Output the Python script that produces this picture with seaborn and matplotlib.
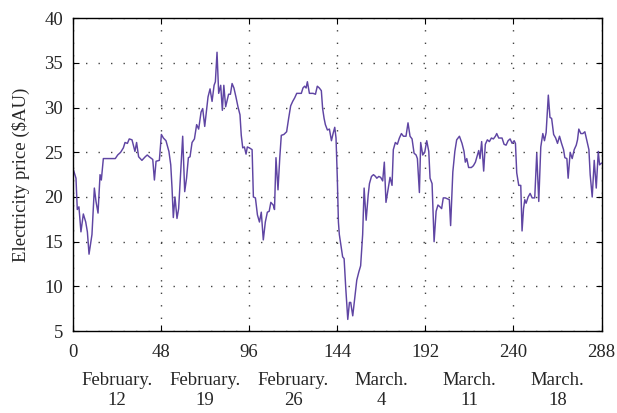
import matplotlib
matplotlib.use("Agg")
import matplotlib.pyplot as plt
import matplotlib.transforms as mtransforms
import seaborn as sns
import pandas as pd

# Half-hourly index (x) and electricity price in $AU (y)
hours = [0, 1.8, 2.5, 3.4, 4.5, 5.8, 7.1, 8.0, 8.9, 10.5, 11.8, 12.7, 13.8, 14.9, 15.6, 16.7,
         23.2, 24.5, 26.1, 27.6, 28.5, 29.8, 30.8, 32.3, 33.9, 34.8, 35.9, 37.7, 39.5, 40.6,
         41.7, 43.6, 44.5, 45.4, 47.2, 48.3, 49.4, 50.8, 52.4, 53.4, 54.1, 54.8, 55.7, 56.8,
         57.7, 58.8, 59.9, 61.0, 62.0, 63.0, 63.9, 65.0, 66.3, 67.5, 68.6, 69.9, 70.8, 71.9,
         73.0, 73.7, 74.8, 75.9, 77.0, 77.7, 78.6, 79.5, 80.6, 81.5, 82.3, 83.3, 84.9, 85.9,
         86.8, 87.8, 88.9, 90.0, 91.1, 91.8, 92.6, 93.5, 94.4, 95.1, 96.2, 97.7, 98.4, 99.5,
         100.6, 101.7, 102.7, 103.8, 104.9, 106.0, 107.0, 107.9, 109.2, 109.9, 110.7, 111.8,
         112.8, 113.6, 115.0, 116.5, 117.6, 118.7, 119.8, 120.9, 122.0, 124.5, 125.4, 126.3,
         127.1, 127.8, 128.9, 130.9, 132.2, 133.2, 134.3, 135.4, 136.1, 136.9, 137.6, 138.7,
         139.8, 140.9, 141.8, 142.7, 143.4, 144.1, 144.7, 145.2, 146.3, 147.0, 147.8, 148.7,
         149.8, 150.7, 151.4, 152.5, 153.6, 154.7, 155.8, 156.8, 157.9, 158.7, 159.8, 160.9,
         161.6, 162.7, 163.8, 164.9, 165.6, 166.7, 167.7, 168.8, 169.7, 170.6, 171.7, 172.8,
         173.9, 174.6, 175.7, 176.8, 177.9, 179.0, 180.1, 181.5, 182.6, 183.7, 184.8, 185.9,
         187.0, 187.7, 188.8, 189.5, 190.6, 191.7, 192.8, 193.9, 194.6, 195.7, 196.8, 197.9,
         198.9, 200.0, 200.9, 201.8, 202.9, 204.0, 205.1, 205.8, 207.0, 208.1, 209.1, 210.6,
         212.0, 213.1, 213.8, 214.6, 215.6, 217.1, 218.2, 219.3, 220.4, 221.1, 221.8, 222.7,
         223.8, 224.7, 225.8, 226.9, 228.0, 229.1, 230.2, 230.9, 232.0, 233.8, 234.9, 236.0,
         237.1, 238.2, 239.3, 240.4, 241.1, 241.8, 242.9, 244.0, 244.7, 245.5, 246.2, 246.9,
         248.0, 249.1, 250.2, 251.6, 252.7, 253.8, 254.9, 256.0, 256.9, 257.8, 259.0, 259.9,
         260.8, 261.9, 263.0, 264.0, 265.1, 266.2, 267.3, 268.0, 269.1, 269.8, 270.9, 272.0,
         273.1, 274.2, 274.9, 275.6, 276.7, 277.8, 278.9, 280.0, 281.1, 281.8, 282.9, 284.0,
         285.1, 286.2, 286.9, 288.0]
price = [23.3, 22.1, 18.6, 18.9, 16.1, 18.1, 17.2, 16.1, 13.6, 15.8, 21.0, 19.5, 18.2, 22.5, 21.9, 24.3,
         24.3, 24.7, 25.0, 25.5, 26.1, 26.0, 26.5, 26.4, 25.1, 26.1, 24.5, 24.1, 24.5, 24.7,
         24.5, 24.2, 21.9, 24.0, 24.1, 27.0, 26.6, 26.3, 25.1, 23.6, 21.0, 17.7, 20.0, 17.6,
         18.7, 22.8, 26.8, 20.6, 22.1, 24.4, 24.5, 26.1, 26.5, 28.1, 27.6, 29.5, 29.9, 27.9,
         29.9, 31.2, 32.1, 30.7, 32.5, 32.9, 36.2, 31.6, 32.5, 29.7, 32.5, 30.1, 31.5, 31.5,
         32.7, 32.2, 31.2, 30.1, 29.2, 26.9, 25.5, 25.6, 24.8, 25.6, 25.5, 25.3, 20.0, 19.9,
         18.0, 17.2, 18.3, 15.2, 17.2, 18.3, 18.4, 19.4, 19.1, 18.6, 24.4, 20.8,
         24.5, 26.9, 27.0, 27.3, 28.8, 30.2, 30.7, 31.1, 31.6, 31.6, 32.2, 32.4,
         32.2, 32.9, 31.6, 31.6, 31.5, 32.4, 32.2, 31.9, 29.9, 28.8, 28.1, 27.5,
         27.6, 26.3, 27.1, 27.8, 26.6, 22.1, 17.2, 15.8, 14.3, 13.3, 13.1, 9.8,
         6.3, 8.2, 8.2, 6.7, 8.7, 10.7, 11.6, 12.3, 15.8, 21.0, 17.4, 20.2,
         21.5, 22.3, 22.5, 22.3, 22.1, 22.3, 22.2, 21.8, 23.9, 19.4, 20.8, 22.2,
         21.3, 25.3, 26.1, 25.9, 26.6, 27.1, 26.8, 26.8, 28.3, 26.8, 26.5, 24.9,
         24.7, 24.3, 20.5, 26.1, 24.7, 25.0, 26.3, 25.1, 22.1, 21.5, 15.0, 18.4,
         19.1, 18.9, 18.7, 19.9, 19.9, 19.8, 19.7, 16.8, 22.8, 25.1, 26.4, 26.8,
         26.0, 25.1, 23.9, 24.3, 23.3, 23.3, 23.5, 23.9, 24.7, 25.2, 24.3, 26.2,
         22.9, 25.9, 26.4, 26.2, 26.6, 26.5, 26.8, 27.1, 26.6, 26.6, 25.9, 25.8,
         26.3, 26.5, 26.0, 26.3, 26.0, 22.7, 21.3, 21.3, 16.2, 18.7, 19.7, 19.3,
         20.0, 20.4, 19.9, 19.9, 24.9, 19.5, 25.6, 27.1, 26.3, 27.2, 31.4, 28.9,
         28.8, 27.0, 26.6, 26.0, 26.8, 26.0, 25.3, 24.4, 24.3, 22.1, 25.0, 24.3,
         25.3, 25.8, 26.4, 27.6, 27.1, 27.1, 27.3, 26.3, 25.3, 22.5, 20.0, 24.1,
         21.0, 25.1, 23.6, 23.8]

x_ticks = [0, 48, 96, 144, 192, 240, 288]
y_ticks = [5, 10, 15, 20, 25, 30, 35, 40]
date_labels = ["February.\n12", "February.\n19", "February.\n26", "March.\n4", "March.\n11", "March.\n18"]
date_positions = [24, 72, 120, 168, 216, 264]

df = pd.DataFrame({"hour": hours, "price": price})

sns.set_style("ticks")
plt.rcParams["font.family"] = ["Liberation Serif", "DejaVu Serif"]
plt.rcParams["xtick.direction"] = "in"
plt.rcParams["ytick.direction"] = "in"

fig = plt.figure(figsize=(6.17, 4.13), dpi=100)
ax = fig.add_axes([0.1178, 0.1985, 0.8572, 0.7572])

sns.lineplot(data=df, x="hour", y="price", ax=ax, color="#5f45a3", linewidth=1.05)

ax.set_xlim(0, 288)
ax.set_ylim(5, 40)
ax.set_xticks(x_ticks)
ax.set_yticks(y_ticks)
ax.tick_params(axis="both", which="both", labelsize=13.5, length=4, width=0.8,
               top=True, right=True, color="black")
ax.tick_params(axis="x", pad=9)
ax.tick_params(axis="y", pad=7)
ax.grid(True, linestyle=(0, (1, 8)), color="#444444", linewidth=1.0)
for s in ax.spines.values():
    s.set_visible(True)
    s.set_linewidth(1.0)
    s.set_color("black")
ax.set_xlabel("")
ax.set_ylabel("Electricity price ($AU)", fontsize=13.5, labelpad=10)

trans = mtransforms.blended_transform_factory(ax.transData, ax.transAxes)
for pos, lab in zip(date_positions, date_labels):
    ax.text(pos, -0.132, lab, transform=trans, ha="center", va="top",
            fontsize=13.5, linespacing=1.2)

fig.savefig("out.png", dpi=100)
